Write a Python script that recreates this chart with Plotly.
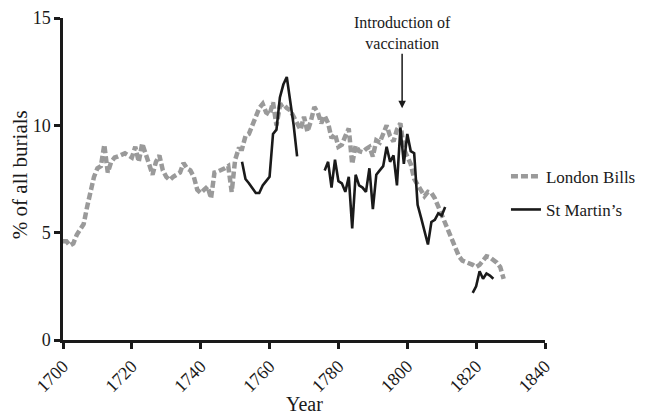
import plotly.graph_objects as go

# London Bills (yearly, 1700-1828)
london_years = list(range(1700, 1829))
london_vals = [
    4.6, 4.6, 4.4, 4.5, 4.9, 5.2, 5.4, 6.2, 7.0, 7.6,
    8.0, 8.1, 9.1, 7.8, 8.3, 8.5, 8.55, 8.65, 8.7, 8.6,
    8.5, 9.0, 8.3, 9.15, 8.6, 8.2, 7.7, 8.3, 8.6, 7.9,
    7.6, 7.45, 7.6, 7.7, 7.8, 8.25, 8.0, 7.9, 7.6, 7.0,
    6.85, 7.0, 7.15, 6.6, 7.8, 7.85, 7.9, 8.0, 8.1, 6.9,
    8.4, 8.9, 8.9, 9.5, 9.6, 10.0, 10.5, 10.8, 11.0, 10.6,
    10.5, 11.07, 10.0, 10.9, 11.0, 10.8, 10.7, 10.4, 10.15, 9.8,
    10.4, 9.7, 10.2, 10.85, 10.6, 10.1, 10.45, 10.1, 9.4, 9.6,
    9.0, 9.1, 9.5, 9.85, 8.2, 9.05, 8.8, 8.75, 8.9, 9.0,
    8.55, 9.3, 9.2, 9.6, 10.0, 9.5, 9.25, 9.8, 10.1, 8.9,
    8.5, 8.2, 7.5, 7.2, 6.9, 6.7, 6.9, 6.85, 6.6, 6.2,
    5.9, 5.5, 5.0, 4.6, 4.3, 3.9, 3.7, 3.65, 3.6, 3.5,
    3.4, 3.5, 3.7, 3.9, 3.85, 3.75, 3.6, 3.4, 2.85,
]

# St Martin's (three segments, gaps as None)
stm_years = (list(range(1752, 1769)) + [None] + list(range(1776, 1812))
             + [None] + list(range(1819, 1826)))
stm_vals = ([8.3, 7.5, 7.3, 7.1, 6.85, 6.85, 7.2, 7.4, 7.6, 9.6,
             9.8, 11.3, 11.9, 12.25, 11.2, 10.0, 8.55]
            + [None]
            + [7.9, 8.3, 7.1, 8.4, 7.4, 7.3, 6.9, 7.6, 5.2, 7.7,
               7.2, 7.1, 6.9, 8.0, 6.1, 7.7, 7.9, 8.1, 9.0, 8.3,
               8.6, 7.2, 9.9, 8.2, 9.6, 8.8, 8.7, 6.3, 5.7, 5.0,
               4.45, 5.5, 5.6, 5.9, 5.8, 6.2]
            + [None]
            + [2.2, 2.5, 3.2, 2.85, 3.1, 3.0, 2.85])

x_ticks = [1700, 1720, 1740, 1760, 1780, 1800, 1820, 1840]
y_ticks = [0, 5, 10, 15]

FONT = "Liberation Serif"
INK = "#1a1a1a"

fig = go.Figure()
fig.add_trace(go.Scatter(
    x=london_years, y=london_vals, mode="lines", name="London Bills",
    line=dict(color="#9a9a9a", width=4.5, dash="7px,3px"),
    legend="legend", showlegend=True,
))
fig.add_trace(go.Scatter(
    x=stm_years, y=stm_vals, mode="lines", name="St Martin\u2019s",
    line=dict(color=INK, width=2.6),
    connectgaps=False, legend="legend2", showlegend=True,
))

fig.add_annotation(
    x=1798.5, y=10.8, xref="x", yref="y",
    text="Introduction of<br>vaccination",
    showarrow=True, arrowhead=2, arrowsize=1, arrowwidth=1.5,
    arrowcolor=INK, ax=0, ay=-75,
    font=dict(family=FONT, size=16, color=INK),
)
# axis titles
fig.add_annotation(
    x=0.5, y=-0.2, xref="paper", yref="paper", xanchor="center", yanchor="middle",
    text="Year", showarrow=False, font=dict(family=FONT, size=20, color=INK),
)
fig.add_annotation(
    x=-0.0892, y=0.512, xref="paper", yref="paper", xanchor="center", yanchor="middle",
    text="% of all burials", textangle=-90, showarrow=False,
    font=dict(family=FONT, size=21, color=INK),
)

axis_common = dict(
    showgrid=False, zeroline=False, showline=True, linecolor=INK,
    linewidth=2.5, ticks="outside", ticklen=6, tickwidth=2.5,
    tickcolor=INK, tickfont=dict(family=FONT, size=18, color=INK),
    automargin=False, ticklabeloverflow="allow",
)

fig.update_layout(
    width=650, height=417,
    margin=dict(l=55, r=113, t=10, b=85),
    plot_bgcolor="white", paper_bgcolor="white",
    showlegend=True,
    xaxis=dict(range=[1700, 1840], tickvals=x_ticks, tickangle=-45, **axis_common),
    yaxis=dict(range=[0, 15], tickvals=y_ticks, **axis_common),
    legend=dict(x=0.919, y=0.507, xanchor="left", yanchor="middle",
                font=dict(family=FONT, size=17, color=INK),
                bgcolor="rgba(0,0,0,0)"),
    legend2=dict(x=0.919, y=0.404, xanchor="left", yanchor="middle",
                 font=dict(family=FONT, size=17, color=INK),
                 bgcolor="rgba(0,0,0,0)"),
)

fig.write_html("out.html")
